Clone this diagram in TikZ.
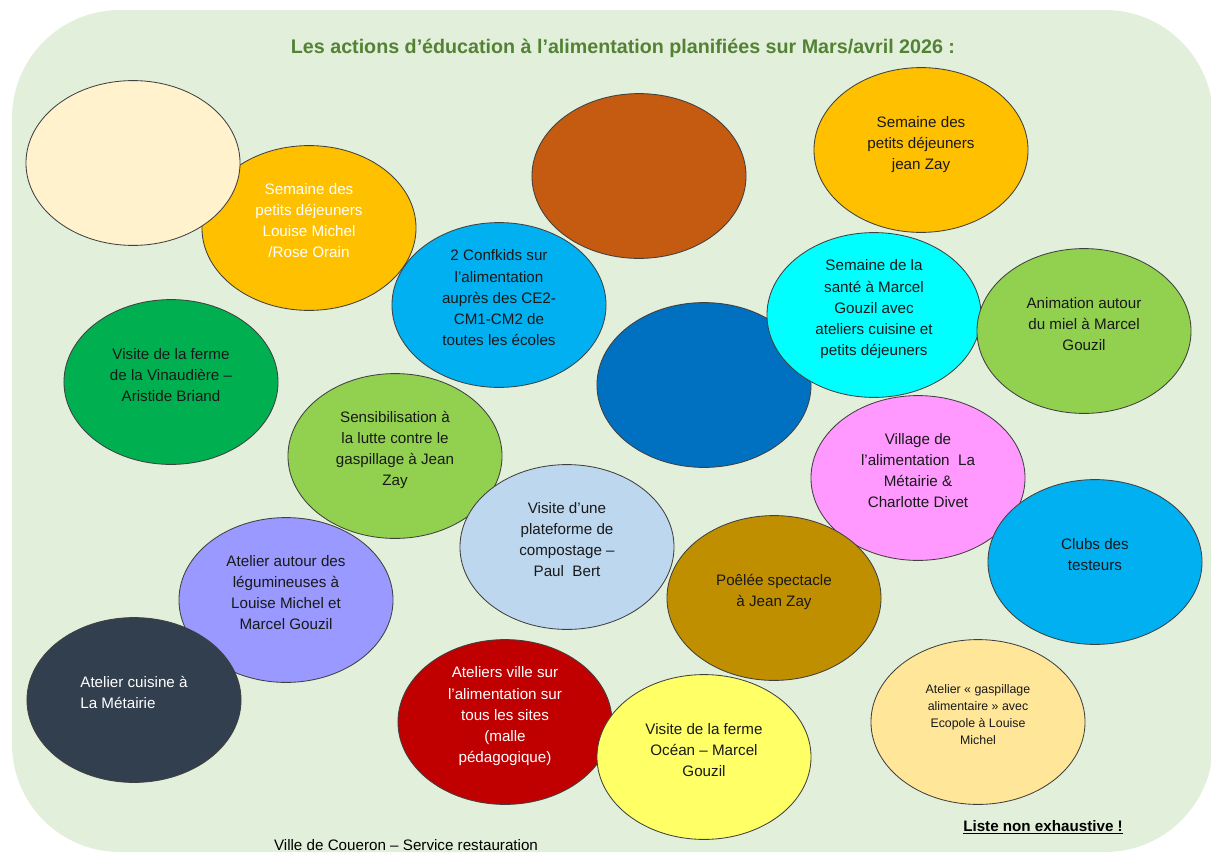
\documentclass[tikz,border=0pt]{standalone}
\usepackage{fontspec}
\setmainfont{Liberation Sans}
\usetikzlibrary{shapes.geometric,positioning}

\definecolor{fond}{HTML}{E2EFDA}
\definecolor{titre}{HTML}{548235}
\definecolor{creme}{HTML}{FFF2CC}
\definecolor{orangec}{HTML}{FFC000}
\definecolor{brique}{HTML}{C55A11}
\definecolor{bleuc}{HTML}{00B0F0}
\definecolor{vertf}{HTML}{00B050}
\definecolor{bleuf}{HTML}{0070C0}
\definecolor{cyanc}{HTML}{00FFFF}
\definecolor{vertc}{HTML}{92D050}
\definecolor{rose}{HTML}{FF99FF}
\definecolor{bleupale}{HTML}{BDD7EE}
\definecolor{mauve}{HTML}{9999FF}
\definecolor{ocre}{HTML}{BF8F00}
\definecolor{ardoise}{HTML}{323F4F}
\definecolor{rouge}{HTML}{C00000}
\definecolor{jaune}{HTML}{FFFF66}
\definecolor{sable}{HTML}{FFE699}

\newcommand\bas{\rule[-0.37cm]{0pt}{0pt}}
\tikzset{
  bulle/.style={ellipse, draw=black!75, line width=0.6pt, minimum width=5.35cm,
    minimum height=4.12cm, inner sep=0pt, align=center, text=black!90,
    font=\fontsize{10.8}{15}\selectfont, execute at end node=\bas},
  petit/.style={font=\fontsize{8.8}{12.2}\selectfont},
}

\begin{document}
\begin{tikzpicture}[x=0.025cm,y=-0.025cm]
\useasboundingbox (0,0) rectangle (1211,855);
\fill[fond, rounded corners=2.7cm] (12,10) rectangle (1213,852);

\node[font=\bfseries\fontsize{14}{16}\selectfont, text=titre] (titre) at (623,48)
  {Les actions d’éducation à l’alimentation planifiées sur Mars/avril 2026 :};

% premiere rangee
\node[bulle, fill=orangec, text=white] (pdjlm) at (309,228) {Semaine des\\petits déjeuners\\Louise Michel\\/Rose Orain};
\node[bulle, fill=creme] (vide) at (133,163) {};
\node[bulle, fill=brique] (brun) at (639,176) {};
\node[bulle, fill=orangec] (pdjjz) at (921,150) {Semaine des\\petits déjeuners\\jean Zay};
\node[bulle, fill=bleuc] (confkids) at (499,305) {2 Confkids sur\\l’alimentation\\auprès des CE2-\\CM1-CM2 de\\toutes les écoles};

% milieu
\node[bulle, fill=vertf] (ferme) at (171,382) {Visite de la ferme\\de la Vinaudière –\\Aristide Briand};
\node[bulle, fill=bleuf] (bleu) at (704,385) {};
\node[bulle, fill=cyanc] (sante) at (874,315) {Semaine de la\\santé à Marcel\\Gouzil avec\\ateliers cuisine et\\petits déjeuners};
\node[bulle, fill=vertc] (miel) at (1084,331) {Animation autour\\du miel à Marcel\\Gouzil};
\node[bulle, fill=vertc] (gaspi) at (395,456) {Sensibilisation à\\la lutte contre le\\gaspillage à Jean\\Zay};
\node[bulle, fill=bleupale] (compost) at (567,547) {Visite d’une\\plateforme de\\compostage –\\Paul\ \ Bert};
\node[bulle, fill=mauve] (legum) at (286,600) {Atelier autour des\\légumineuses à\\Louise Michel et\\Marcel Gouzil};
\node[bulle, fill=ardoise, text=white, align=left] (cuisine) at (134,700) {Atelier cuisine à\\La Métairie};
\node[bulle, fill=rose] (village) at (918,478) {Village de\\l’alimentation\ \ La\\Métairie \&\\Charlotte Divet};
\node[bulle, fill=bleuc] (clubs) at (1095,562) {Clubs des\\testeurs};
\node[bulle, fill=ocre] (poelee) at (774,598) {Poêlée spectacle\\à Jean Zay};

% bas
\node[bulle, fill=rouge, text=white] (ateliers) at (505,722) {Ateliers ville sur\\l’alimentation sur\\tous les sites\\(malle\\pédagogique)};
\node[bulle, fill=jaune] (ocean) at (704,757) {Visite de la ferme\\Océan – Marcel\\Gouzil};
\node[bulle, petit, fill=sable] (ecopole) at (978,722) {Atelier « gaspillage\\alimentaire » avec\\Ecopole à Louise\\Michel};

\node[font=\fontsize{10.8}{13}\selectfont] (ville) at (406,845) {Ville de Coueron – Service restauration};
\node[font=\bfseries\fontsize{10.8}{13}\selectfont] (liste) at (1043,827) {\underline{Liste non exhaustive !}};
\end{tikzpicture}
\end{document}
